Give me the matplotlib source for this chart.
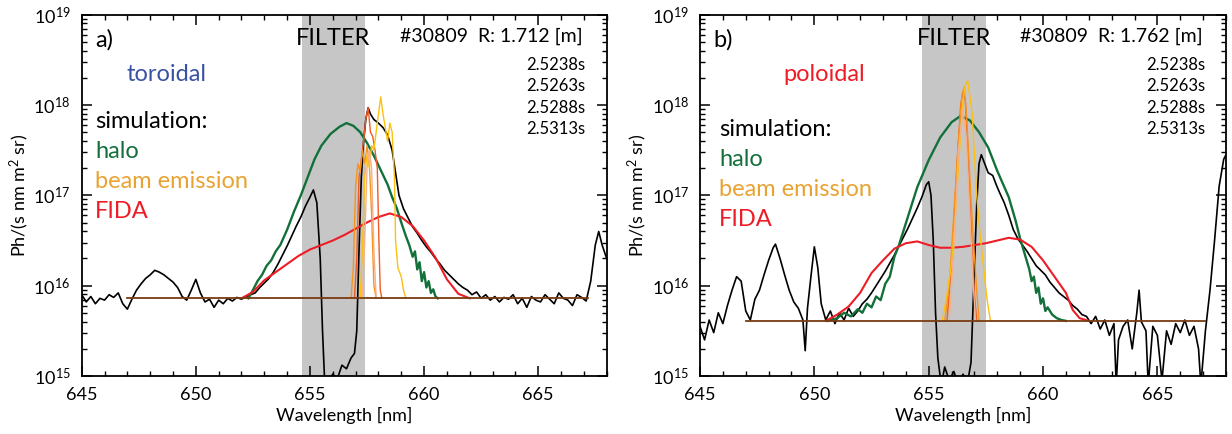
import numpy as np
import matplotlib
matplotlib.use("Agg")
import matplotlib.pyplot as plt
from matplotlib.ticker import LogLocator, MultipleLocator, NullFormatter, FixedLocator

plt.rcParams['font.family'] = ['Lato', 'DejaVu Sans']
plt.rcParams['mathtext.fontset'] = 'custom'
plt.rcParams['mathtext.rm'] = 'Lato'
plt.rcParams['mathtext.it'] = 'Lato:italic'

# ---------------- data (log10 of photon flux) ----------------
# Panel a (toroidal, R = 1.712 m) - measured spectrum
a_meas_wl = [645.0, 645.2, 645.4, 645.6, 645.8, 646.0, 646.2, 646.4, 646.6, 646.8,
             647.0, 647.2, 647.4, 647.6, 647.8, 648.0, 648.2, 648.4, 648.6, 648.8,
             649.0, 649.2, 649.4, 649.6, 649.8, 650.0, 650.2, 650.4, 650.6, 650.8,
             651.0, 651.2, 651.4, 651.6, 651.8, 652.0, 652.2, 652.4, 652.6, 652.8,
             653.0, 653.2, 653.4, 653.6, 653.8, 654.0, 654.2, 654.4, 654.6, 654.8,
             655.0, 655.15, 655.3, 655.45, 655.55, 655.65, 655.8, 656.0, 656.2, 656.4,
             656.6, 656.8, 656.95, 657.05, 657.15, 657.25, 657.35, 657.45, 657.55, 657.65,
             657.8, 658.0, 658.2, 658.4, 658.6, 658.75, 658.9, 659.1, 659.3, 659.5,
             659.7, 659.9, 660.1, 660.3, 660.5, 660.7, 660.9, 661.1, 661.3, 661.5,
             661.7, 661.9, 662.1, 662.3, 662.5, 662.7, 662.9, 663.1, 663.3, 663.5,
             663.7, 663.9, 664.1, 664.3, 664.5, 664.7, 664.9, 665.1, 665.3, 665.5,
             665.7, 665.9, 666.1, 666.3, 666.5, 666.7, 666.9, 667.1, 667.3, 667.5,
             667.65, 667.8, 668.0]
a_meas_log = [15.90, 15.82, 15.88, 15.80, 15.86, 15.84, 15.90, 15.87, 15.92, 15.80,
              15.74, 15.85, 15.95, 16.02, 16.08, 16.12, 16.17, 16.15, 16.12, 16.08,
              16.04, 15.98, 15.88, 15.84, 15.95, 16.07, 15.92, 15.82, 15.85, 15.76,
              15.84, 15.80, 15.86, 15.83, 15.87, 15.85, 15.88, 15.90, 15.92, 15.98,
              16.03, 16.08, 16.15, 16.24, 16.34, 16.44, 16.55, 16.66, 16.76, 16.88,
              16.98, 17.06, 16.92, 16.30, 15.50, 14.90, 14.95, 15.02, 14.97, 15.12,
              15.08, 15.20, 15.25, 15.50, 16.40, 17.20, 17.60, 17.85, 17.97, 17.90,
              17.84, 17.80, 17.75, 17.67, 17.50, 17.25, 17.00, 16.85, 16.75, 16.65,
              16.58, 16.50, 16.43, 16.37, 16.30, 16.24, 16.17, 16.12, 16.07, 16.02,
              15.98, 15.95, 15.90, 15.93, 15.86, 15.90, 15.84, 15.88, 15.82, 15.87,
              15.85, 15.90, 15.80, 15.86, 15.76, 15.88, 15.84, 15.82, 15.90, 15.85,
              15.80, 15.92, 15.86, 15.84, 15.78, 15.90, 15.87, 15.83, 16.05, 16.45,
              16.60, 16.45, 16.30]

a_halo_wl = [652.3, 652.5, 652.7, 652.9, 653.1, 653.3, 653.5, 653.7, 654.0, 654.3,
             654.6, 654.9, 655.2, 655.5, 655.9, 656.3, 656.6, 656.9, 657.2, 657.5,
             657.8, 658.1, 658.4, 658.6, 658.8, 659.0, 659.2, 659.35, 659.5, 659.6,
             659.7, 659.8, 659.9, 660.0, 660.1, 660.2, 660.3, 660.4, 660.5, 660.6]
a_halo_log = [15.86, 15.95, 16.05, 16.12, 16.22, 16.28, 16.38, 16.45, 16.62, 16.82,
              17.00, 17.20, 17.40, 17.55, 17.68, 17.76, 17.80, 17.77, 17.70, 17.58,
              17.44, 17.28, 17.12, 16.98, 16.86, 16.70, 16.55, 16.45, 16.32, 16.38,
              16.18, 16.26, 16.05, 16.15, 15.98, 16.05, 15.92, 15.96, 15.88, 15.86]

a_fida_wl = [652.0, 652.5, 653.0, 653.5, 654.0, 654.5, 655.0, 655.5, 656.0, 656.5,
             657.0, 657.5, 658.0, 658.5, 659.0, 659.5, 660.0, 660.5, 661.0, 661.5, 662.0]
a_fida_log = [15.86, 15.93, 16.06, 16.15, 16.24, 16.33, 16.40, 16.45, 16.50, 16.56,
              16.63, 16.70, 16.76, 16.80, 16.76, 16.66, 16.50, 16.31, 16.07, 15.91, 15.86]

a_be1_wl = [656.95, 657.05, 657.15, 657.25, 657.35, 657.45, 657.55, 657.65, 657.75, 657.85, 657.95, 658.02, 658.08, 658.15]
a_be1_log = [15.86, 16.30, 17.20, 17.40, 17.60, 17.85, 17.97, 17.70, 17.65, 17.50, 17.30, 16.50, 15.95, 15.86]
a_be2_wl = [656.80, 656.90, 657.00, 657.10, 657.20, 657.30, 657.40, 657.50, 657.60, 657.70, 657.80, 657.90]
a_be2_log = [15.86, 16.20, 17.10, 17.35, 17.25, 17.50, 17.35, 17.55, 17.35, 16.80, 16.00, 15.86]
a_be3_wl = [657.20, 657.30, 657.40, 657.50, 657.60, 657.70, 657.80, 657.90, 658.00, 658.10,
            658.20, 658.30, 658.40, 658.50, 658.60, 658.70, 658.75, 658.85, 659.00, 659.10, 659.20]
a_be3_log = [15.86, 16.40, 17.20, 17.45, 17.30, 17.55, 17.50, 17.70, 17.90, 18.09,
             17.90, 17.75, 17.60, 17.80, 17.70, 17.20, 16.50, 16.20, 16.10, 15.95, 15.86]
a_be4_wl = [657.30, 657.40, 657.50, 657.60, 657.70, 657.80, 657.90]
a_be4_log = [15.86, 16.50, 17.30, 17.50, 17.30, 16.40, 15.86]

a_base_wl = [647.0, 667.2]
a_base_log = [15.863, 15.863]

# Panel b (poloidal, R = 1.762 m) - measured spectrum
b_meas_wl = [645.0, 645.2, 645.4, 645.6, 645.8, 646.0, 646.2, 646.4, 646.6, 646.8,
             647.0, 647.2, 647.4, 647.6, 647.8, 648.0, 648.2, 648.3, 648.5, 648.7,
             648.9, 649.1, 649.3, 649.5, 649.6, 649.7, 649.85, 650.0, 650.15, 650.3,
             650.5, 650.7, 650.9, 651.1, 651.3, 651.5, 651.7, 651.9, 652.1, 652.3,
             652.5, 652.7, 652.9, 653.1, 653.3, 653.5, 653.7, 653.9, 654.1, 654.3,
             654.5, 654.7, 654.9, 655.0, 655.1, 655.2, 655.3, 655.4, 655.55, 655.7,
             655.9, 656.1, 656.3, 656.5, 656.7, 656.85, 657.0, 657.1, 657.2, 657.3,
             657.45, 657.6, 657.8, 657.95, 658.1, 658.3, 658.5, 658.7, 658.9, 659.1,
             659.3, 659.5, 659.7, 659.9, 660.1, 660.3, 660.5, 660.7, 660.9, 661.1,
             661.3, 661.5, 661.7, 661.9, 662.1, 662.3, 662.5, 662.7, 662.9, 663.1,
             663.2, 663.3, 663.5, 663.7, 663.9, 664.1, 664.2, 664.3, 664.5, 664.6,
             664.8, 665.0, 665.2, 665.4, 665.6, 665.8, 666.0, 666.2, 666.4, 666.6,
             666.8, 666.9, 667.1, 667.3, 667.5, 667.7, 667.9, 668.0]
b_meas_log = [15.55, 15.40, 15.62, 15.48, 15.70, 15.58, 15.78, 15.95, 16.10, 16.05,
              15.72, 15.62, 15.85, 15.95, 16.12, 16.28, 16.42, 16.46, 16.30, 16.12,
              15.95, 15.82, 15.75, 15.62, 15.28, 15.75, 16.10, 16.43, 16.20, 15.80,
              15.62, 15.72, 15.58, 15.70, 15.62, 15.75, 15.66, 15.72, 15.80, 15.85,
              15.92, 16.00, 16.08, 16.16, 16.25, 16.34, 16.44, 16.54, 16.64, 16.75,
              16.86, 16.98, 17.12, 17.15, 17.00, 16.50, 15.70, 15.20, 14.90, 15.10,
              14.95, 15.05, 14.90, 15.02, 14.93, 15.15, 16.20, 16.90, 17.35, 17.45,
              17.35, 17.25, 17.22, 17.12, 17.03, 16.92, 16.78, 16.62, 16.52, 16.45,
              16.38, 16.30, 16.22, 16.17, 16.12, 16.04, 15.98, 15.92, 15.88, 15.84,
              15.78, 15.74, 15.68, 15.66, 15.58, 15.66, 15.52, 15.62, 15.45, 15.58,
              14.90, 15.40, 15.55, 15.62, 15.30, 15.70, 15.95, 15.60, 15.50, 14.90,
              15.55, 15.45, 14.95, 15.50, 15.35, 15.58, 15.48, 15.62, 15.45, 15.55,
              15.30, 14.90, 15.50, 15.95, 16.50, 17.10, 17.40, 17.45]

b_halo_wl = [650.6, 651.0, 651.3, 651.6, 651.9, 652.1, 652.3, 652.5, 652.7, 652.9,
             653.1, 653.3, 653.5, 653.7, 654.0, 654.5, 655.0, 655.5, 656.0, 656.4,
             656.8, 657.2, 657.6, 658.0, 658.5, 658.8, 659.0, 659.2, 659.4, 659.5,
             659.6, 659.7, 659.8, 659.9, 660.0, 660.1, 660.2, 660.4, 660.6, 660.8, 661.0]
b_halo_log = [15.61, 15.64, 15.70, 15.66, 15.74, 15.70, 15.80, 15.76, 15.88, 15.84,
              16.02, 16.10, 16.32, 16.45, 16.69, 17.09, 17.39, 17.64, 17.81, 17.88,
              17.83, 17.70, 17.53, 17.27, 16.98, 16.72, 16.52, 16.35, 16.18, 16.05,
              16.10, 15.92, 15.98, 15.80, 15.86, 15.72, 15.76, 15.68, 15.64, 15.62, 15.61]

b_fida_wl = [650.5, 651.0, 651.5, 652.0, 652.5, 653.0, 653.5, 654.0, 654.5, 655.0,
             655.5, 656.0, 656.5, 657.0, 657.5, 658.0, 658.5, 659.0, 659.5, 660.0,
             660.5, 661.0, 661.3, 661.6, 662.0]
b_fida_log = [15.61, 15.68, 15.77, 15.92, 16.14, 16.28, 16.41, 16.47, 16.49, 16.45,
              16.42, 16.42, 16.43, 16.45, 16.47, 16.50, 16.53, 16.51, 16.43, 16.28,
              16.10, 15.92, 15.73, 15.64, 15.61]

b_be1_wl = [655.80, 655.95, 656.10, 656.25, 656.40, 656.50, 656.60, 656.70, 656.80, 656.90, 657.00, 657.10]
b_be1_log = [15.61, 16.10, 16.70, 17.40, 18.00, 18.15, 18.05, 17.60, 17.00, 16.40, 15.90, 15.61]
b_be2_wl = [655.70, 655.90, 656.10, 656.30, 656.45, 656.55, 656.65, 656.80, 656.95, 657.10, 657.20]
b_be2_log = [15.61, 16.00, 16.80, 17.60, 18.10, 18.20, 17.90, 17.20, 16.50, 15.95, 15.61]
b_be3_wl = [655.60, 655.80, 656.00, 656.20, 656.35, 656.50, 656.60, 656.70, 656.80, 656.90,
            657.00, 657.10, 657.25, 657.40, 657.55, 657.70]
b_be3_log = [15.61, 15.90, 16.25, 16.90, 17.50, 18.05, 18.22, 18.27, 18.10, 17.90,
             17.45, 17.00, 16.55, 16.20, 15.85, 15.61]
b_be4_wl = [655.90, 656.10, 656.30, 656.50, 656.65, 656.80, 656.95, 657.05]
b_be4_log = [15.61, 16.40, 17.50, 17.95, 17.60, 16.80, 16.00, 15.61]

b_base_wl = [647.0, 667.1]
b_base_log = [15.608, 15.608]

filter_a = (654.65, 657.40)
filter_b = (654.70, 657.50)

time_labels = ["2.5238s", "2.5263s", "2.5288s", "2.5313s"]
x_ticks = [645, 650, 655, 660, 665]

C_HALO = "#13703a"
C_FIDA = "#ee1c25"
C_BE = ["#f15a24", "#f7941d", "#fdc010", "#f6b08a"]
C_BASE = "#7a3b10"

fig = plt.figure(figsize=(12.32, 4.34), dpi=100)
W, H = 1232.0, 434.0
ax_a = fig.add_axes([81.7 / W, 1 - 376 / H, (606.7 - 81.7) / W, (376 - 14.7) / H])
ax_b = fig.add_axes([700 / W, 1 - 376 / H, (1226 - 700) / W, (376 - 14.7) / H])


def draw(ax, meas, halo, fida, bes, base, filt, label, mode, mode_col, R, sim_y0):
    ax.axvspan(filt[0], filt[1], color="#c6c6c6", lw=0, zorder=0)
    ax.plot(meas[0], 10 ** np.array(meas[1]), color="black", lw=1.2, zorder=3)
    ax.plot(halo[0], 10 ** np.array(halo[1]), color=C_HALO, lw=1.7, zorder=4)
    ax.plot(fida[0], 10 ** np.array(fida[1]), color=C_FIDA, lw=1.5, zorder=5)
    for (wl, lg), c in zip(bes, C_BE):
        ax.plot(wl, 10 ** np.array(lg), color=c, lw=1.0, zorder=6)
    ax.plot(base[0], 10 ** np.array(base[1]), color=C_BASE, lw=1.3, zorder=7)

    ax.set_yscale("log")
    ax.set_xlim(645, 668)
    ax.set_ylim(1e15, 1e19)
    ax.xaxis.set_major_locator(FixedLocator(x_ticks))
    ax.xaxis.set_minor_locator(MultipleLocator(1))
    ax.yaxis.set_major_locator(LogLocator(base=10, numticks=10))
    ax.yaxis.set_minor_locator(LogLocator(base=10, subs=np.arange(2, 10), numticks=20))
    ax.yaxis.set_minor_formatter(NullFormatter())
    ax.tick_params(which="both", direction="in", top=True, right=True, labelsize=13, pad=8)
    ax.tick_params(which="major", length=7, width=1.1)
    ax.tick_params(which="minor", length=3.5, width=1.0)
    for s in ax.spines.values():
        s.set_linewidth(1.3)
    ax.set_xlabel("Wavelength [nm]", fontsize=13, labelpad=3)
    ax.set_ylabel("Ph/(s nm m$^2$ sr)", fontsize=13, labelpad=2)

    tr = ax.transAxes
    ax.text(0.025, 0.93, label, transform=tr, fontsize=17, va="center", ha="left")
    fc = (filt[0] + filt[1]) / 2
    ax.text(fc, 10 ** 18.74, "FILTER", fontsize=17, ha="center", va="center")
    ax.text(0.955, 0.941, "#30809  R: " + R + " [m]", transform=tr, fontsize=14,
            ha="right", va="center")
    for i, t in enumerate(time_labels):
        ax.text(0.96, 0.861 - i * 0.0595, t, transform=tr, fontsize=12, ha="right", va="center")
    ax.text(mode[0], mode[1], mode[2], transform=tr, fontsize=17, color=mode_col,
            ha="left", va="center")
    items = [("simulation:", "black"), ("halo", C_HALO), ("beam emission", "#e8a332"), ("FIDA", C_FIDA)]
    for i, (t, c) in enumerate(items):
        ax.text(sim_y0[0], sim_y0[1] - i * 0.083, t, transform=tr, fontsize=17, color=c,
                ha="left", va="center")


draw(ax_a, (a_meas_wl, a_meas_log), (a_halo_wl, a_halo_log), (a_fida_wl, a_fida_log),
     [(a_be1_wl, a_be1_log), (a_be2_wl, a_be2_log), (a_be3_wl, a_be3_log), (a_be4_wl, a_be4_log)],
     (a_base_wl, a_base_log), filter_a, "a)", (0.085, 0.835, "toroidal"), "#3953a4", "1.712",
     (0.026, 0.705))
draw(ax_b, (b_meas_wl, b_meas_log), (b_halo_wl, b_halo_log), (b_fida_wl, b_fida_log),
     [(b_be1_wl, b_be1_log), (b_be2_wl, b_be2_log), (b_be3_wl, b_be3_log), (b_be4_wl, b_be4_log)],
     (b_base_wl, b_base_log), filter_b, "b)", (0.158, 0.835, "poloidal"), "#ee1c25", "1.762",
     (0.036, 0.683))

fig.savefig("out.png", dpi=100)
